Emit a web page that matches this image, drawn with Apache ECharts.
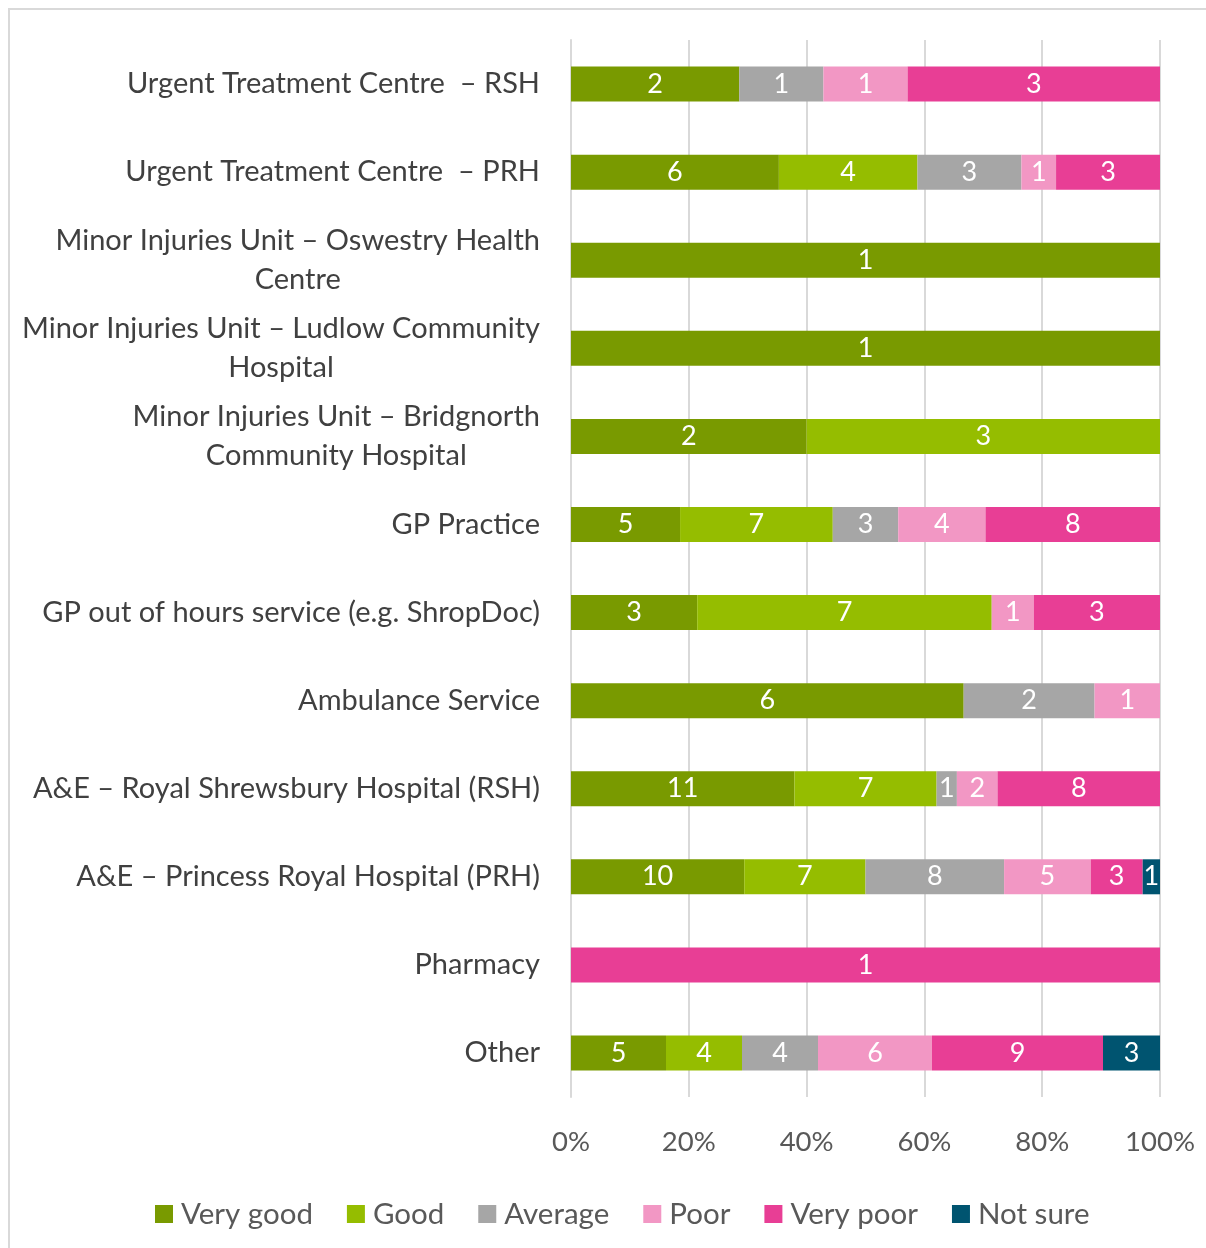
<!DOCTYPE html>
<html>
<head>
<meta charset="utf-8">
<script src="https://cdn.jsdelivr.net/npm/echarts@6/dist/echarts.min.js"></script>
<style>
  html, body { margin: 0; padding: 0; background: #fff; }
  #frame { position: absolute; left: 8px; top: 8px; width: 1210px; height: 1250px; border: 2px solid #d9d9d9; box-sizing: border-box; }
  #chart { position: absolute; left: 0; top: 0; width: 1206px; height: 1248px; }
</style>
</head>
<body>
<div id="frame"></div>
<div id="chart"></div>
<script>
// services, top to bottom
const categories = [
  'Urgent Treatment Centre  – RSH',
  'Urgent Treatment Centre  – PRH',
  'Minor Injuries Unit – Oswestry Health\nCentre',
  'Minor Injuries Unit – Ludlow Community\nHospital',
  'Minor Injuries Unit – Bridgnorth\nCommunity Hospital',
  'GP Practice',
  'GP out of hours service (e.g. ShropDoc)',
  'Ambulance Service',
  'A&E – Royal Shrewsbury Hospital (RSH)',
  'A&E – Princess Royal Hospital (PRH)',
  'Pharmacy',
  'Other'
];

const seriesNames = ['Very good', 'Good', 'Average', 'Poor', 'Very poor', 'Not sure'];
const colors = ['#799a00', '#95bd00', '#a6a6a6', '#f297c4', '#e83e95', '#005470'];

// response counts per rating
const veryGood = [2, 6, 1, 1, 2, 5, 3, 6, 11, 10, 0, 5];
const good     = [0, 4, 0, 0, 3, 7, 7, 0, 7, 7, 0, 4];
const average  = [1, 3, 0, 0, 0, 3, 0, 2, 1, 8, 0, 4];
const poor     = [1, 1, 0, 0, 0, 4, 1, 1, 2, 5, 0, 6];
const veryPoor = [3, 3, 0, 0, 0, 8, 3, 0, 8, 3, 1, 9];
const notSure  = [0, 0, 0, 0, 0, 0, 0, 0, 0, 1, 0, 3];

const xTicks = [0, 20, 40, 60, 80, 100];

const counts = [veryGood, good, average, poor, veryPoor, notSure];
const totals = categories.map((c, i) => counts.reduce((s, arr) => s + arr[i], 0));

const FONT = 'Lato';
const Y_SIZE = 29;

// wrapped labels: lines centred on each other, block still right-aligned
const ctx = document.createElement('canvas').getContext('2d');
ctx.font = Y_SIZE + 'px ' + FONT;
const yData = categories.map(name => {
  const lines = name.split('\n');
  if (lines.length < 2) return name;
  const w = Math.max(...lines.map(l => ctx.measureText(l).width));
  return { value: name, textStyle: { align: 'center', padding: [0, w, 0, 0] } };
});

const chart = echarts.init(document.getElementById('chart'));

const series = counts.map((arr, k) => ({
  name: seriesNames[k],
  type: 'bar',
  stack: 'total',
  barWidth: 35,
  itemStyle: { color: colors[k] },
  label: {
    show: true,
    color: '#fff',
    fontFamily: FONT,
    fontSize: 27,
    formatter: p => (arr[p.dataIndex] ? String(arr[p.dataIndex]) : '')
  },
  data: arr.map((v, i) => (v ? (v / totals[i]) * 100 : 0))
}));

chart.setOption({
  animation: false,
  textStyle: { fontFamily: FONT },
  grid: { left: 571, right: 46, top: 40, bottom: 151 },
  legend: {
    bottom: 14,
    left: 150,
    itemWidth: 18,
    itemHeight: 18,
    itemGap: 34,
    icon: 'rect',
    textStyle: { fontFamily: FONT, fontSize: 29.5, color: '#595959', padding: [0, 0, 0, 3] },
    data: seriesNames
  },
  xAxis: {
    type: 'value',
    min: 0,
    max: 100,
    interval: 20,
    axisLine: { show: false },
    axisTick: { show: false },
    splitLine: { lineStyle: { color: '#d9d9d9', width: 2 } },
    axisLabel: {
      margin: 31,
      fontSize: 27.5,
      color: '#595959',
      fontFamily: FONT,
      formatter: v => (xTicks.includes(v) ? v + '%' : '')
    }
  },
  yAxis: {
    type: 'category',
    inverse: true,
    data: yData,
    axisLine: { show: true, lineStyle: { color: '#d9d9d9', width: 2 } },
    axisTick: { show: false },
    axisLabel: {
      margin: 31,
      fontSize: Y_SIZE,
      lineHeight: 39,
      color: '#404040',
      fontFamily: FONT,
      align: 'right'
    }
  },
  series: series
});
</script>
</body>
</html>
